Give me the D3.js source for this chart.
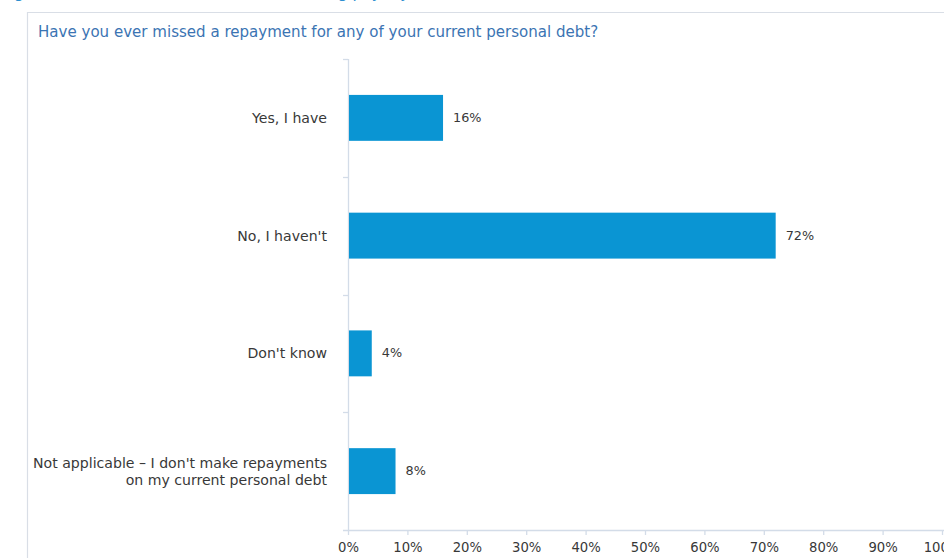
<!DOCTYPE html>
<html>
<head>
<meta charset="utf-8">
<script src="https://cdn.jsdelivr.net/npm/d3@7"></script>
<style>
  html, body { margin: 0; padding: 0; background: #fff; }
  svg { display: block; }
</style>
</head>
<body>
<svg id="chart" width="944" height="558"></svg>
<script>
// Survey answers, top to bottom
const categories = [
  ["Yes, I have"],
  ["No, I haven't"],
  ["Don't know"],
  ["Not applicable \u2013 I don't make repayments", "on my current personal debt"]
];
const shares = [16, 72, 4, 8];
const tickValues = [0, 10, 20, 30, 40, 50, 60, 70, 80, 90, 100];

const heading = "Figure 6: Missed credit commitments among payday loan borrowers";
const title = "Have you ever missed a repayment for any of your current personal debt?";

const svg = d3.select("#chart");
const font = "'DejaVu Sans', sans-serif";
const axisColor = "#d3dce8";
const textColor = "#383838";
const barColor = "#0a95d3";
const titleColor = "#3b74b3";

// Outer frame of the figure panel
svg.append("path")
  .attr("d", "M27.5,560 V12.5 H950")
  .attr("fill", "none")
  .attr("stroke", "#d9dee6")
  .attr("stroke-width", 1.2);

// Heading clipped by the top edge
svg.append("text")
  .attr("x", 2).attr("y", -2)
  .attr("font-family", font).attr("font-size", 15.5)
  .attr("fill", "#2e8fd0")
  .text(heading);

svg.append("text")
  .attr("x", 38).attr("y", 37)
  .attr("font-family", font).attr("font-size", 15.05)
  .attr("fill", titleColor)
  .text(title);

const x = d3.scaleLinear().domain([0, 100]).range([348, 942]);
const y = d3.scaleBand()
  .domain(d3.range(categories.length))
  .range([59, 530])
  .paddingInner(0.61)
  .paddingOuter(0.305);

// Vertical category axis with ticks between the bands
const step = y.step();
const yTicks = d3.range(categories.length + 1).map(i => 59 + i * step);
svg.append("line")
  .attr("x1", 348.5).attr("x2", 348.5)
  .attr("y1", 59).attr("y2", 530)
  .attr("stroke", axisColor).attr("stroke-width", 1.3);
svg.selectAll("line.ytick").data(yTicks.slice(0, -1)).join("line")
  .attr("class", "ytick")
  .attr("x1", 343).attr("x2", 348)
  .attr("y1", d => Math.round(d) + 0.5).attr("y2", d => Math.round(d) + 0.5)
  .attr("stroke", axisColor).attr("stroke-width", 1.3);

// Horizontal value axis
const xAxis = d3.axisBottom(x)
  .tickValues(tickValues)
  .tickSize(5)
  .tickPadding(8)
  .tickFormat(d => d + "%");
const gx = svg.append("g")
  .attr("transform", "translate(0,530)")
  .call(xAxis);
gx.select(".domain").remove();
gx.append("line")
  .attr("x1", 343).attr("x2", 950)
  .attr("y1", 0.5).attr("y2", 0.5)
  .attr("stroke", axisColor).attr("stroke-width", 1.3);
gx.selectAll(".tick line").attr("stroke", axisColor).attr("stroke-width", 1.3);
gx.selectAll(".tick text")
  .attr("font-family", font).attr("font-size", 13.2)
  .attr("fill", textColor);

// Bars
svg.selectAll("rect.bar").data(shares).join("rect")
  .attr("class", "bar")
  .attr("x", x(0) + 1)
  .attr("y", (d, i) => y(i))
  .attr("width", d => x(d) - x(0) - 1)
  .attr("height", y.bandwidth())
  .attr("fill", barColor);

// Value labels
svg.selectAll("text.value").data(shares).join("text")
  .attr("class", "value")
  .attr("x", d => x(d) + 10)
  .attr("y", (d, i) => y(i) + y.bandwidth() / 2 + 4)
  .attr("font-family", font).attr("font-size", 12.8)
  .attr("fill", textColor)
  .text(d => d + "%");

// Category labels
const labels = svg.selectAll("text.cat").data(categories).join("text")
  .attr("class", "cat")
  .attr("text-anchor", "end")
  .attr("font-family", font).attr("font-size", 14.1)
  .attr("fill", textColor)
  .attr("y", (d, i) => y(i) + y.bandwidth() / 2 + 5 - (d.length - 1) * 8.5);
labels.selectAll("tspan").data(d => d).join("tspan")
  .attr("x", 327)
  .attr("dy", (d, i) => i === 0 ? 0 : 17)
  .text(d => d);
</script>
</body>
</html>
